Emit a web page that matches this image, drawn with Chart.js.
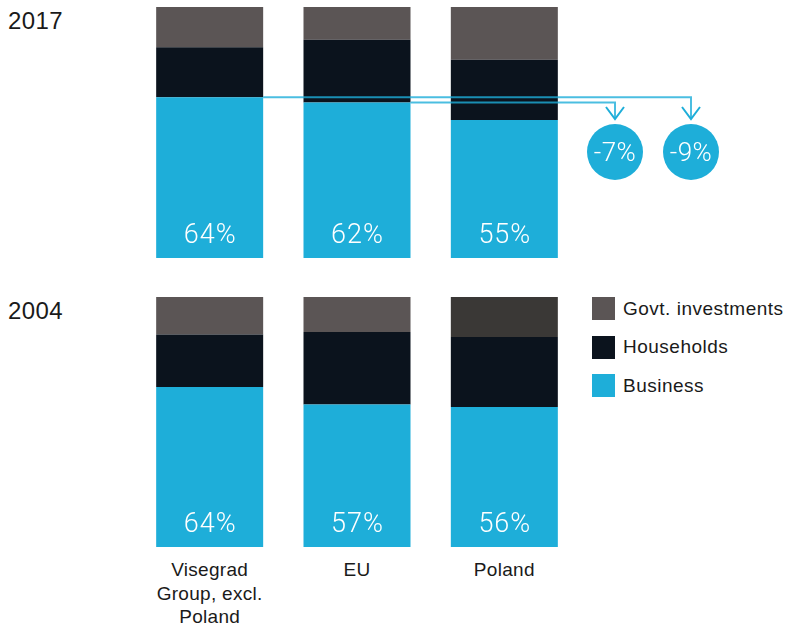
<!DOCTYPE html>
<html>
<head>
<meta charset="utf-8">
<script src="https://cdn.jsdelivr.net/npm/chart.js@4"></script>
<style>
  body { margin: 0; background: #fff; width: 786px; height: 628px; position: relative; overflow: hidden;
         font-family: "Liberation Sans", Arial, sans-serif; color: #1a1a1a; }
  canvas { position: absolute; }
  #chart2017 { left: 136px; top: 7px; }
  #chart2004 { left: 136px; top: 297px; }
  .year { position: absolute; left: 8px; font-size: 24px; line-height: 28px; letter-spacing: 0.4px; }
  .cat { position: absolute; width: 150px; text-align: center; font-size: 19px; line-height: 23.5px; top: 558px; letter-spacing: 0.3px; }
  #legend { position: absolute; left: 592px; top: 297px; }
  .item { display: flex; align-items: center; height: 23px; margin-bottom: 15.5px; font-size: 19px; letter-spacing: 0.5px; }
  .swatch { width: 23px; height: 23px; margin-right: 8px; }
</style>
</head>
<body>
<div class="year" style="top:7px">2017</div>
<div class="year" style="top:297px">2004</div>
<canvas id="chart2017" width="600" height="251"></canvas>
<canvas id="chart2004" width="442" height="250"></canvas>
<div id="cats"></div>
<div id="legend"></div>
<script>
const categories = ['Visegrad Group, excl. Poland', 'EU', 'Poland'];
const catLines = [['Visegrad', 'Group, excl.', 'Poland'], ['EU'], ['Poland']];

// shares of total, %
const business2017 = [64, 62, 55];
const households2017 = [20, 25, 24];
const govt2017 = [16, 13, 21];

const business2004 = [64, 57, 56];
const households2004 = [21, 29, 28];
const govt2004 = [15, 14, 16];

const BLUE = '#1eaed9';
const BLACK = '#0b131d';
const GREY = '#5b5555';
const DARKGREY = '#3a3836';

const barPct = 107 / 147.33;

// white % label at the foot of each business bar
const bizLabels = {
    id: 'bizLabels',
    afterDatasetsDraw(chart) {
        const c = chart.ctx;
        const meta = chart.getDatasetMeta(0);
        c.save();
        c.fillStyle = '#fff';
        c.font = '300 27px Roboto';
        c.letterSpacing = '1px';
        c.textAlign = 'center';
        c.textBaseline = 'middle';
        meta.data.forEach((bar, i) => {
            c.fillText(chart.data.datasets[0].data[i] + '%', bar.x + 0.5, bar.base - 22);
        });
        c.restore();
    }
};

// arrows from Visegrad / EU business level to the change bubbles
const gapArrows = {
    id: 'gapArrows',
    afterDatasetsDraw(chart) {
        const c = chart.ctx;
        const meta = chart.getDatasetMeta(0);
        const data = chart.data.datasets[0].data;
        const right = chart.chartArea.right;
        const poland = data[2];
        const targets = [{ idx: 0, cx: right + 113 }, { idx: 1, cx: right + 37 }];
        const cy = 145, r = 28, tip = 112;
        c.save();
        targets.forEach(t => {
            const bar = meta.data[t.idx];
            const x0 = bar.x + bar.width / 2;
            c.strokeStyle = 'rgba(30,174,217,0.8)';
            c.lineWidth = 2;
            c.beginPath();
            c.moveTo(x0, bar.y);
            c.lineTo(t.cx, bar.y);
            c.lineTo(t.cx, tip);
            c.stroke();
            c.strokeStyle = BLUE;
            c.beginPath();
            c.moveTo(t.cx - 9, tip - 12);
            c.lineTo(t.cx, tip);
            c.lineTo(t.cx + 9, tip - 12);
            c.stroke();
            c.fillStyle = BLUE;
            c.beginPath();
            c.arc(t.cx, cy, r, 0, Math.PI * 2);
            c.fill();
            c.fillStyle = '#fff';
            c.font = '300 26px Roboto';
            c.letterSpacing = '0.5px';
            c.textAlign = 'center';
            c.textBaseline = 'middle';
            c.fillText('-' + Math.abs(poland - data[t.idx]) + '%', t.cx, cy + 2);
        });
        c.restore();
    }
};

function makeChart(id, biz, hh, gov, govColors, extra, padRight) {
    return new Chart(document.getElementById(id), {
        type: 'bar',
        data: {
            labels: categories,
            datasets: [
                { label: 'Business', data: biz, backgroundColor: BLUE },
                { label: 'Households', data: hh, backgroundColor: BLACK },
                { label: 'Govt. investments', data: gov, backgroundColor: govColors }
            ]
        },
        options: {
            responsive: false,
            animation: false,
            layout: { padding: { left: 0, right: padRight, top: 0, bottom: 0 } },
            datasets: { bar: { barPercentage: barPct, categoryPercentage: 1, borderWidth: 0 } },
            plugins: { legend: { display: false }, tooltip: { enabled: false } },
            scales: {
                x: { stacked: true, display: false },
                y: { stacked: true, display: false, min: 0, max: 100 }
            }
        },
        plugins: [bizLabels].concat(extra)
    });
}

const chart2017 = makeChart('chart2017', business2017, households2017, govt2017, GREY, [gapArrows], 158);
const chart2004 = makeChart('chart2004', business2004, households2004, govt2004, [GREY, GREY, DARKGREY], [], 0);

// category names under the lower bars
const cats = document.getElementById('cats');
const xs = chart2004.scales.x;
catLines.forEach((lines, i) => {
    const d = document.createElement('div');
    d.className = 'cat';
    d.style.left = (136 + xs.getPixelForValue(i) - 75) + 'px';
    d.innerHTML = lines.join('<br>');
    cats.appendChild(d);
});

// legend, top of stack first
const legend = document.getElementById('legend');
[['Govt. investments', GREY], ['Households', BLACK], ['Business', BLUE]].forEach(([name, col]) => {
    const it = document.createElement('div');
    it.className = 'item';
    it.innerHTML = '<span class="swatch" style="background:' + col + '"></span>' + name;
    legend.appendChild(it);
});
</script>
</body>
</html>
